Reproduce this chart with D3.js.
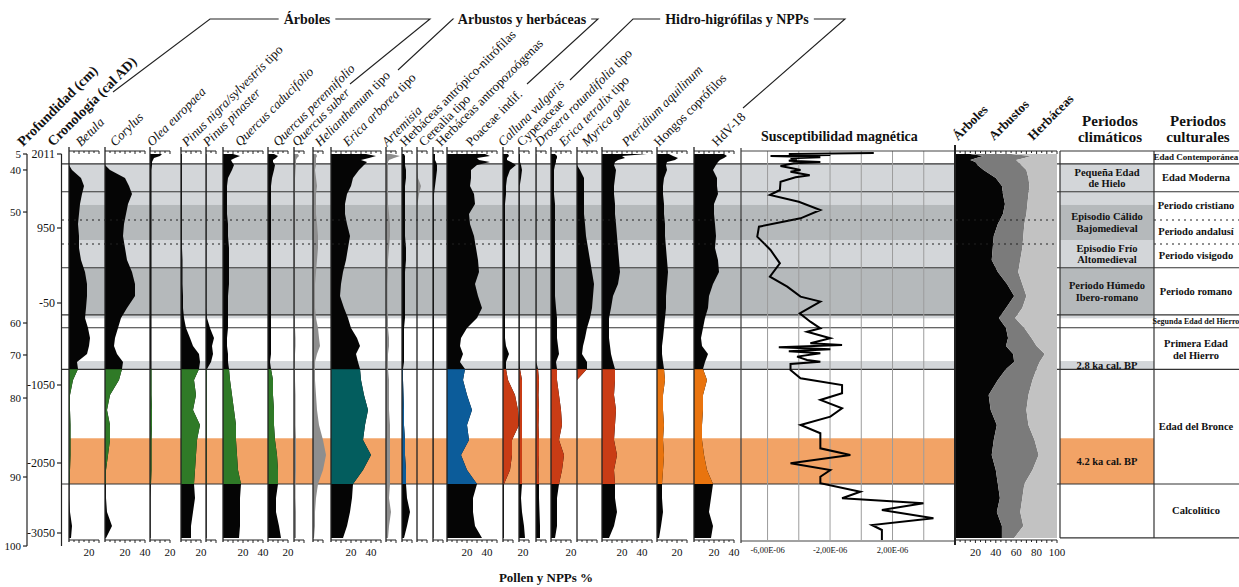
<!DOCTYPE html>
<html><head><meta charset="utf-8">
<script src="https://cdn.jsdelivr.net/npm/d3@7"></script>
<style>
body{margin:0;background:#fff}
svg{display:block}
text{font-family:"Liberation Serif","Times New Roman",serif;fill:#111}
</style>
</head><body>
<svg id="c" width="1239" height="587"></svg>
<script>
// ---------------- DATA ----------------
// sample ages (cal AD, negative = BC)
const ages = [2011,1982,1954,1925,1896,1853,1782,1667,1552,1437,1294,1150,1007,843,683,523,363,203,43,-111,-233,-355,-477,-574,-672,-770,-855,-989,-1178,-1370,-1563,-1755,-1947,-2150,-2350,-2550,-2750,-2950,-3121];
const chronoTicks = [2011,950,-50,-1050,-2050,-3050];
const depthTicks = [5,40,50,60,70,80,90,100];
const depthAges  = [2011,1782,1179,-294,-684,-1217,-2250,-3236];

const betula   = [0,0,0,0,0,0,3,12,15,13, 11,10,9,10,10,12,16,18,18,17, 16,19,21,20,18,8,9,4,1,1, 1.5,1.5,1.5,1,0.5,0.5,1,3,2];
const corylus  = [0,0,0,0,0,0,5,20,24,27, 23,21,19,18,20,22,27,30,30,22, 16,13,10,9,12,18,17,14,5,2, 5,5,3,1,1,1,2,7,1];
const olea     = [12,10,4,3,2,2,1.5,1.5,1.5,1.5, 1.5,1.5,1.5,1.5,1.5,1.5,1.5,1.5,1.5,1.5, 1.5,1.5,1.5,1.5,1.5,1.5,1.5,1.5,1.5,2, 2,1.5,1.5,1.5,1,0.7,0.7,0.7,0.7];
const pinusNigra = [1,1,1,1,1,1,1,1,1,1, 1,1,1,1,1,1.5,1.5,1.5,2,2, 3,5,9,12,18,19,18,13,15,12, 19,16,15,14,13,14,12,10,10];
const pinusPinaster = [0.5,0.5,0.5,0.5,0.5,0.5,0.5,0.5,0.5,0.5, 0.5,0.5,0.5,0.5,0.5,0.5,0.5,0.5,0.5,0.5, 1,4,8,6,7,5,1,0.7,0.7,0.7, 0.7,0.7,0.7,0.7,0.7,0.7,0.7,0.7,0.7];
const quercusCad = [10,17,12,8,9,11,9,5,4,4, 4,4,5,5,6,6,6,6,5,5, 5,5,4,4,5,5,6,7,9,11, 13,13,14,15,18,17,17,17,16];
const quercusPer = [6,10,8,5,5,7,6,4,3,3, 3,3,3,3,3,3,3,3,3,3, 3,3,3,3,3,2,3,5,5,6, 6,7,9,10,10,8,8,11,13];
const quercusSuber = [4,5,3,2,2,2,1.5,1,1,1, 1,1,1,1,1,1,1,1,1,1, 1,1,1.5,1.5,1,1,1,1,1.5,1.5, 1.5,2,2,2,1.5,1.5,2,2,2];
const helianthemum = [3,4,3,3,3,3,2,3,4,3, 3,3,4,5,5,4,3,2,2,2, 3,5,6,7,4,2,2,2,3,4, 6,10,13,10,5,3,2,2,1];
const ericaArborea = [35,45,38,30,36,33,28,22,20,16, 14,14,16,19,17,15,12,10,9,13, 17,20,26,29,25,27,29,30,33,37, 34,32,40,32,22,21,19,16,12];
const artemisia = [5,14,8,3,2,2,2,2,2,2, 2,3,4,4,3,2,2,1.5,1.5,1.5, 2,2,3,3,2,2,2,3,3,3, 4,4,4,4,4,3,5,3,2];
const herbNitrofilas = [2,3,3,3,3,3,4,4,3,3, 3,3,3,3,4,4,3,3,3,3, 3,2,2,2,2,2,1,1,1.5,2, 2,3,3,4,4,5,8,5,2];
const cerealia = [0.5,0.5,0.5,0.5,0.5,0.5,0.5,1,4,2, 0.5,0,0,0,0,0,0,0,0,0, 0,0,0,0,0,0,0,0,0,0, 0,0,0,0,0,0,0,0,0];
const herbAntropozoogenas = [2,2,2,2,3,4,4,3,2,1, 1,1,1,1,1,1,1,1,1,1, 1,1,1,1,1,1,0.5,0.5,0.5,0.5, 0.5,0.5,0.5,0.5,0.5,0.5,0.5,0.5,0.5];
const poaceae = [38,43,30,32,43,30,24,24,23,27, 28,22,23,27,29,31,32,28,31,35, 30,20,14,13,16,13,18,16,20,25, 20,22,14,20,30,26,26,28,35];
const calluna = [5,6,4,4,8,13,7,4,3,3, 2,2,2,2,2,2,2,2,2,2, 2,2,2,3,6,3,3,5,12,15, 16,9,9,7,1,1,1,1,1];
const cyperaceae = [1,1,1,1,1,2,3,2,0.7,0.7, 0.7,0.7,0.7,0.7,0.7,0.7,0.7,0.7,0.7,0.7, 0.7,0.7,0.7,0.7,0.7,0.7,1,3,3,3, 3,3,3,3,3,2,3,5,6];
const drosera = [0.3,0.3,0.3,0.3,0.3,0.3,0.3,0.3,0.3,0.3, 0.3,0.3,0.3,0.3,0.3,0.3,0.3,0.3,0.3,0.3, 0.3,0.3,0.3,0.3,0.3,0.3,2,3,2.5,3, 2.5,3,3,2.5,3,3,3.5,4,4];
const ericaTetralix = [4,6,6,5,5,4,3,3,3,3, 4,4,4,4,4,4,4,4,4,5, 6,6,6,7,8,5,6,6,8,10, 11,8,13,11,8,6,6,6,4];
const myrica = [0,0,0,0,0,0,3,7,7,7, 7,7,8,9,11,13,15,17,16,15, 13,10,8,6,5,10,10,0,0,0, 0,0,0,0,0,0,0,0,0];
const pteridium = [45,20,23,16,13,12,14,13,12,12, 13,13,14,15,16,17,18,16,11,9, 7,7,7,8,9,11,13,13,12,14, 13,12,15,12,13,13,15,12,7];
const hongos = [12,16,21,18,10,9,10,7,6,6, 7,7,8,8,9,10,11,10,9,9, 8,7,6,5,5,6,7,8,6,6, 7,6,7,6,5,5,6,4,2];
const hdv18 = [30,33,30,26,24,22,19,23,23,24, 20,20,21,22,21,24,25,19,15,14, 11,9,7,8,14,11,9,13,9,9, 8,8,10,13,19,17,15,19,17];

// summary (%)
const arboles   = [15,28,21,15,20,22,28,40,46,47, 49,47,42,38,37,36,42,51,58,50, 43,50,52,50,57,58,50,42,33,35, 41,38,36,40,42,44,41,46,46];
const arbustos  = [40,47,47,45,42,43,42,32,27,25, 22,23,26,29,29,28,20,15,12,16, 16,18,23,30,31,25,30,34,39,35, 31,40,46,36,26,22,23,21,12];
const herbaceas = [45,25,32,40,38,35,30,28,27,28, 29,30,32,33,34,36,38,34,30,34, 41,32,25,20,12,17,20,24,28,30, 28,22,18,24,32,34,36,33,42];

// magnetic susceptibility (x 1E-06)
const susAges = [2025,2011,1997,1982,1964,1949,1935,1915,1896,1878,1839,1806,1782,1757,1734,1706,1677,1614,1495,1423,1327,1208,1089,969,834,657,479,301,168,35,-32,-176,-278,-359,-400,-480,-541,-562,-590,-614,-639,-663,-704,-745,-765,-794,-867,-968,-1050,-1156,-1242,-1349,-1456,-1563,-1669,-1862,-1947,-2054,-2150,-2246,-2340,-2460,-2554,-2626,-2721,-2840,-2936,-3007,-3150];
const susValues = [0.8,-4.64,-1.98,-5.81,-2.62,-4.53,-4.11,-4.64,-2.62,-4.32,-5.17,-4.43,-3.89,-4.53,-4.0,-3.3,-4.21,-5.17,-5.21,-5.85,-4.0,-2.62,-3.89,-6.55,-6.66,-5.81,-5.21,-5.85,-4.74,-3.89,-2.62,-3.94,-3.26,-2.62,-3.47,-1.98,-3.26,-1.23,-5.28,-1.98,-4.64,-2.62,-4.11,-3.47,-2.62,-4.53,-4.53,-3.89,-1.23,-1.23,-2.62,-1.23,-1.98,-3.89,-2.62,-2.62,-0.7,-4.53,-1.98,-2.62,-2.62,-0.06,-1.23,3.98,1.32,4.62,0.68,1.32,1.32];
const susTicks = [-6,-4,-2,0,2,4];
const susLabels = [-6,-2,2];

// zones
const highlight = [-859,-2350];
const solidBounds = [1870,1470,420,-196,-352,-859,-2350];
const dottedBounds = [1065,737];
const climLabels = [["Pequeña Edad","de Hielo"],[],["Episodio Cálido","Bajomedieval"],["Episodio Frío","Altomedieval"],["Periodo Húmedo","Ibero-romano"],[],["2.8 ka cal. BP"],["4.2 ka cal. BP"]];
const climStart = [1870,1470,1280,790,420,-196,-758,-1733];
const climEnd   = [1470,1280,790,420,-196,-237,-859,-2350];
const climShade = ["light","light","dark","light","dark","light","light","orange"];
const cultureNames = ["Edad Contemporánea","Edad Moderna","Periodo cristiano","Periodo andalusí","Periodo visigodo","Periodo romano","Segunda Edad del Hierro","Primera Edad del Hierro","Edad del Bronce","Calcolítico"];
const cultureBounds = [2011,1870,1470,1065,737,420,-196,-352,-859,-2350,-3121];

// ---------------- LAYOUT / STYLE ----------------
const W=1239,H=587;
const GREEN="#2f7a27",TEAL="#035d5e",BLUE="#0c5c9a",RED="#c93c15",ORNG="#e9740e",GRAYS="#8e8e8e",BLACK="#050505";
const shadeColor={light:"#d3d6d9",dark:"#b5b9bb",orange:"#f2a366"};
const panels=[
 {d:betula,x:69,max:30,ticks:[20],color:GREEN,lx:81,label:[["Betula",1]]},
 {d:corylus,x:105,max:40,ticks:[20,40],color:GREEN,lx:115,label:[["Corylus",1]]},
 {d:olea,x:150,max:20,ticks:[20],color:GREEN,lx:152,label:[["Olea europaea",1]]},
 {d:pinusNigra,x:181,max:20,ticks:[20],color:GREEN,lx:187,label:[["Pinus nigra/sylvestris",1],[" tipo",0]]},
 {d:pinusPinaster,x:206,max:10,ticks:[],color:GREEN,lx:208,label:[["Pinus pinaster",1]]},
 {d:quercusCad,x:223,max:40,ticks:[20,40],color:GREEN,lx:240,label:[["Quercus caducifolio",1]]},
 {d:quercusPer,x:268,max:20,ticks:[20],color:GREEN,lx:278,label:[["Quercus perennifolio",1]]},
 {d:quercusSuber,x:294,max:10,ticks:[],color:null,gray:true,lx:297,label:[["Quercus suber",1]]},
 {d:helianthemum,x:313,max:10,ticks:[],color:null,gray:true,lx:320,label:[["Helianthemum",1],[" tipo",0]]},
 {d:ericaArborea,x:331,max:50,ticks:[20,40],color:TEAL,lx:348,label:[["Erica arborea",1],[" tipo",0]]},
 {d:artemisia,x:386,max:10,ticks:[],color:null,gray:true,lx:387,label:[["Artemisia",1]]},
 {d:herbNitrofilas,x:402,max:10,ticks:[],color:BLUE,lx:405,label:[["Herbáceas antrópico-nitrófilas",0]]},
 {d:cerealia,x:417,max:10,ticks:[],color:null,gray:true,lx:424,label:[["Cerealia tipo",0]]},
 {d:herbAntropozoogenas,x:433,max:10,ticks:[],color:null,lx:441,label:[["Herbáceas antropozoógenas",0]]},
 {d:poaceae,x:447,max:50,ticks:[20,40],color:BLUE,lx:471,label:[["Poaceae indif.",0]]},
 {d:calluna,x:503,max:10,ticks:[20],color:RED,lx:503,label:[["Calluna vulgaris",1]]},
 {d:cyperaceae,x:519,max:10,ticks:[],color:RED,lx:522,label:[["Cyperaceae",0]]},
 {d:drosera,x:536,max:10,ticks:[],color:RED,lx:540,label:[["Drosera rotundifolia",1],[" tipo",0]]},
 {d:ericaTetralix,x:551,max:20,ticks:[20],color:RED,lx:564,label:[["Erica tetralix",1],[" tipo",0]]},
 {d:myrica,x:577,max:20,ticks:[],color:RED,lx:587,label:[["Myrica gale",1]]},
 {d:pteridium,x:602,max:50,ticks:[20,40],color:RED,lx:627,label:[["Pteridium aquilinum",1]]},
 {d:hongos,x:657,max:30,ticks:[20],color:ORNG,lx:659,label:[["Hongos coprófilos",0]]},
 {d:hdv18,x:694,max:40,ticks:[20,40],color:ORNG,lx:717,label:[["HdV-18",0]]}
];
const TOP=151,BOT=540;

const svg=d3.select("#c");
svg.append("rect").attr("width",W).attr("height",H).attr("fill","#fff");
const y=d3.scaleLinear().domain(chronoTicks).range([154,228,303,385,463,533]);
const pct=d3.scaleLinear().domain([0,100]).range([0,100]);
const xs=d3.scaleLinear().domain([-7.7,6]).range([741,955]);
const xsum=d3.scaleLinear().domain([0,100]).range([955,1057]);

svg.append("defs").append("clipPath").attr("id","zone").append("rect")
  .attr("x",0).attr("width",W).attr("y",y(highlight[0])).attr("height",y(highlight[1])-y(highlight[0]));

// bands
const gBand=svg.append("g");
climStart.forEach((s,i)=>{
  [[69,955],[1060,1154]].forEach(([a,b])=>{
    gBand.append("rect").attr("x",a).attr("width",b-a).attr("y",y(s)).attr("height",y(climEnd[i])-y(s))
      .attr("fill",shadeColor[climShade[i]]);
  });
});
// solid zone lines
solidBounds.forEach(a=>{
  svg.append("line").attr("x1",62).attr("x2",W).attr("y1",y(a)).attr("y2",y(a))
    .attr("stroke","#333").attr("stroke-width",1.2);
});

// panels
const gP=svg.append("g");
panels.forEach(p=>{
  const area=d3.area().y((d,i)=>y(ages[i])).x0(p.x).x1(d=>p.x+pct(d));
  gP.append("path").attr("d",area(p.d)).attr("fill",p.gray?GRAYS:BLACK);
  if(p.color){
    gP.append("path").attr("d",area(p.d)).attr("fill",p.color).attr("clip-path","url(#zone)");
  }
  const ax=gP.append("g").attr("stroke","#222").attr("stroke-width",1);
  ax.append("line").attr("x1",p.x).attr("x2",p.x).attr("y1",TOP-4).attr("y2",BOT+2).attr("stroke-width",1.3);
  [TOP,BOT].forEach(yy=>{
    ax.append("line").attr("x1",p.x).attr("x2",p.x+pct(p.max)).attr("y1",yy).attr("y2",yy);
    d3.range(5,p.max+0.1,5).forEach(t=>{
      ax.append("line").attr("x1",p.x+pct(t)).attr("x2",p.x+pct(t)).attr("y1",yy).attr("y2",yy+(t%10===0?3:2));
    });
  });
  p.ticks.forEach(t=>{
    gP.append("text").attr("x",p.x+pct(t)).attr("y",556).attr("text-anchor","middle").attr("font-size",11).text(t);
  });
  const tx=svg.append("text").attr("transform",`translate(${p.lx},147) rotate(-45)`).attr("font-size",13);
  p.label.forEach(([s,it])=>tx.append("tspan").attr("font-style",it?"italic":"normal").text(s));
});

// susceptibility
const gS=svg.append("g");
susTicks.forEach(t=>{
  gS.append("line").attr("x1",xs(t)).attr("x2",xs(t)).attr("y1",TOP).attr("y2",BOT).attr("stroke","#9c9c9c").attr("stroke-width",1);
});
gS.append("line").attr("x1",741).attr("x2",741).attr("y1",TOP-3).attr("y2",BOT+3).attr("stroke","#444").attr("stroke-width",1.3);
gS.append("line").attr("x1",741).attr("x2",955).attr("y1",TOP).attr("y2",TOP).attr("stroke","#444");
gS.append("line").attr("x1",741).attr("x2",955).attr("y1",BOT+1).attr("y2",BOT+1).attr("stroke","#444");
const susLine=d3.line().x(d=>xs(d[1])).y(d=>y(d[0]));
gS.append("path").attr("d",susLine(susAges.map((a,i)=>[a,susValues[i]]))).attr("fill","none").attr("stroke","#000").attr("stroke-width",2).attr("stroke-linejoin","miter");
susLabels.forEach(t=>{
  gS.append("text").attr("x",xs(t)).attr("y",553).attr("text-anchor","middle").attr("font-size",8.5)
    .text((t<0?"-":"")+Math.abs(t).toFixed(2).replace(".",",")+"E-06");
});
svg.append("text").attr("x",761).attr("y",141).attr("font-size",14).attr("font-weight","bold").text("Susceptibilidad magnética");

// summary stacked
const rows=ages.map((a,i)=>({age:a,arb:arboles[i],arbu:arbustos[i],herb:herbaceas[i]}));
const stack=d3.stack().keys(["arb","arbu","herb"])(rows);
const sumCol=["#050505","#7b7b7b","#c2c2c2"];
const sArea=d3.area().y(d=>y(d.data.age)).x0(d=>xsum(d[0])).x1(d=>xsum(d[1]));
stack.forEach((s,i)=>svg.append("path").attr("d",sArea(s)).attr("fill",sumCol[i]));
const gSum=svg.append("g").attr("stroke","#222");
gSum.append("line").attr("x1",955).attr("x2",955).attr("y1",TOP-6).attr("y2",BOT+5).attr("stroke-width",2);
[TOP,BOT].forEach(yy=>{
  gSum.append("line").attr("x1",955).attr("x2",xsum(100)).attr("y1",yy).attr("y2",yy);
  d3.range(5,100.1,5).forEach(t=>gSum.append("line").attr("x1",xsum(t)).attr("x2",xsum(t)).attr("y1",yy).attr("y2",yy+(t%10===0?3:2)));
});
[20,40,60,80,100].forEach(t=>svg.append("text").attr("x",xsum(t)).attr("y",556).attr("text-anchor","middle").attr("font-size",11).text(t));
[["Árboles",958],["Arbustos",994],["Herbáceas",1033]].forEach(([s,x])=>{
  svg.append("text").attr("transform",`translate(${x},141) rotate(-45)`).attr("font-size",13).attr("font-weight","bold").text(s);
});

// dotted lines
dottedBounds.forEach(a=>{
  [[62,1057],[1154,W]].forEach(([x1,x2])=>{
    svg.append("line").attr("x1",x1).attr("x2",x2).attr("y1",y(a)).attr("y2",y(a))
      .attr("stroke","#222").attr("stroke-width",1.2).attr("stroke-dasharray","2,4");
  });
});

// columns (climatic & cultural)
const gT=svg.append("g").attr("stroke","#333").attr("stroke-width",1.2);
gT.append("line").attr("x1",1060).attr("x2",1060).attr("y1",TOP).attr("y2",y(-3121));
gT.append("line").attr("x1",1154).attr("x2",1154).attr("y1",TOP).attr("y2",y(-3121));
gT.append("line").attr("x1",1060).attr("x2",W).attr("y1",TOP).attr("y2",TOP);
gT.append("line").attr("x1",1060).attr("x2",W).attr("y1",y(-3121)).attr("y2",y(-3121));
climLabels.forEach((lab,i)=>{
  if(!lab.length) return;
  const cy=(y(climStart[i])+y(climEnd[i]))/2;
  const n=lab.length, lh=11.5;
  lab.forEach((s,j)=>{
    svg.append("text").attr("x",1107).attr("y",cy+3.5-(n-1)*lh/2+j*lh).attr("text-anchor","middle")
      .attr("font-size",10.5).attr("font-weight","bold").text(s);
  });
});
cultureNames.forEach((s,i)=>{
  const top=i===0?TOP:y(cultureBounds[i]);
  const cy=(top+y(cultureBounds[i+1]))/2;
  if(i===0||i===6){
    svg.append("text").attr("x",1196).attr("y",cy+3).attr("text-anchor","middle").attr("font-size",i===0?9:8)
      .attr("font-weight","bold").text(s);
  } else if(i===7){
    ["Primera Edad","del Hierro"].forEach((t,j)=>svg.append("text").attr("x",1196).attr("y",cy-2+j*12.5).attr("text-anchor","middle").attr("font-size",10.5).attr("font-weight","bold").text(t));
  } else {
    svg.append("text").attr("x",1196).attr("y",cy+3.5).attr("text-anchor","middle").attr("font-size",10.5).attr("font-weight","bold").text(s);
  }
});
[["Periodos",1110,126],["climáticos",1110,142],["Periodos",1198,126],["culturales",1198,142]].forEach(([s,x,yy])=>{
  svg.append("text").attr("x",x).attr("y",yy).attr("text-anchor","middle").attr("font-size",15).attr("font-weight","bold").text(s);
});

// left axes
const gA=svg.append("g").attr("stroke","#222").attr("stroke-width",1.2);
gA.append("line").attr("x1",27).attr("x2",27).attr("y1",y(depthAges[0])).attr("y2",y(depthAges[depthAges.length-1]));
depthTicks.forEach((d,i)=>{
  const yy=y(depthAges[i]);
  gA.append("line").attr("x1",23).attr("x2",27).attr("y1",yy).attr("y2",yy);
  svg.append("text").attr("x",21).attr("y",yy+4).attr("text-anchor","end").attr("font-size",11).text(d);
});
gA.append("line").attr("x1",61.5).attr("x2",61.5).attr("y1",y(2011)).attr("y2",y(-3236));
chronoTicks.forEach(c=>{
  const yy=y(c);
  gA.append("line").attr("x1",57).attr("x2",61.5).attr("y1",yy).attr("y2",yy);
  svg.append("text").attr("x",55).attr("y",yy+4).attr("text-anchor","end").attr("font-size",12).text(c);
});
svg.append("text").attr("transform","translate(23,147) rotate(-45)").attr("font-size",14).attr("font-weight","bold").text("Profundidad (cm)");
svg.append("text").attr("transform","translate(53,147) rotate(-45)").attr("font-size",14).attr("font-weight","bold").text("Cronología (cal AD)");

// group brackets
const brackets=[
 {t:"Árboles",cx:307,left:[[113,92],[210,19]],right:[[430,19],[350,84]]},
 {t:"Arbustos y herbáceas",cx:522,left:[[398,70],[453,19]],right:[[598,19],[527,84]]},
 {t:"Hidro-higrófilas y NPPs",cx:737,left:[[570,80],[633,19]],right:[[845,19],[743,108]]}
];
brackets.forEach(b=>{
  const t=svg.append("text").attr("x",b.cx).attr("y",24).attr("text-anchor","middle").attr("font-size",14).attr("font-weight","bold").text(b.t);
  const w=t.node().getComputedTextLength();
  const pts=[...b.left,[b.cx-w/2-5,19]];
  const pts2=[[b.cx+w/2+5,19],...b.right];
  [pts,pts2].forEach(p=>svg.append("path").attr("d",d3.line()(p)).attr("fill","none").attr("stroke","#222").attr("stroke-width",1.1));
});

svg.append("text").attr("x",546).attr("y",582).attr("text-anchor","middle").attr("font-size",13).attr("font-weight","bold").text("Pollen y NPPs %");
</script>
</body></html>
